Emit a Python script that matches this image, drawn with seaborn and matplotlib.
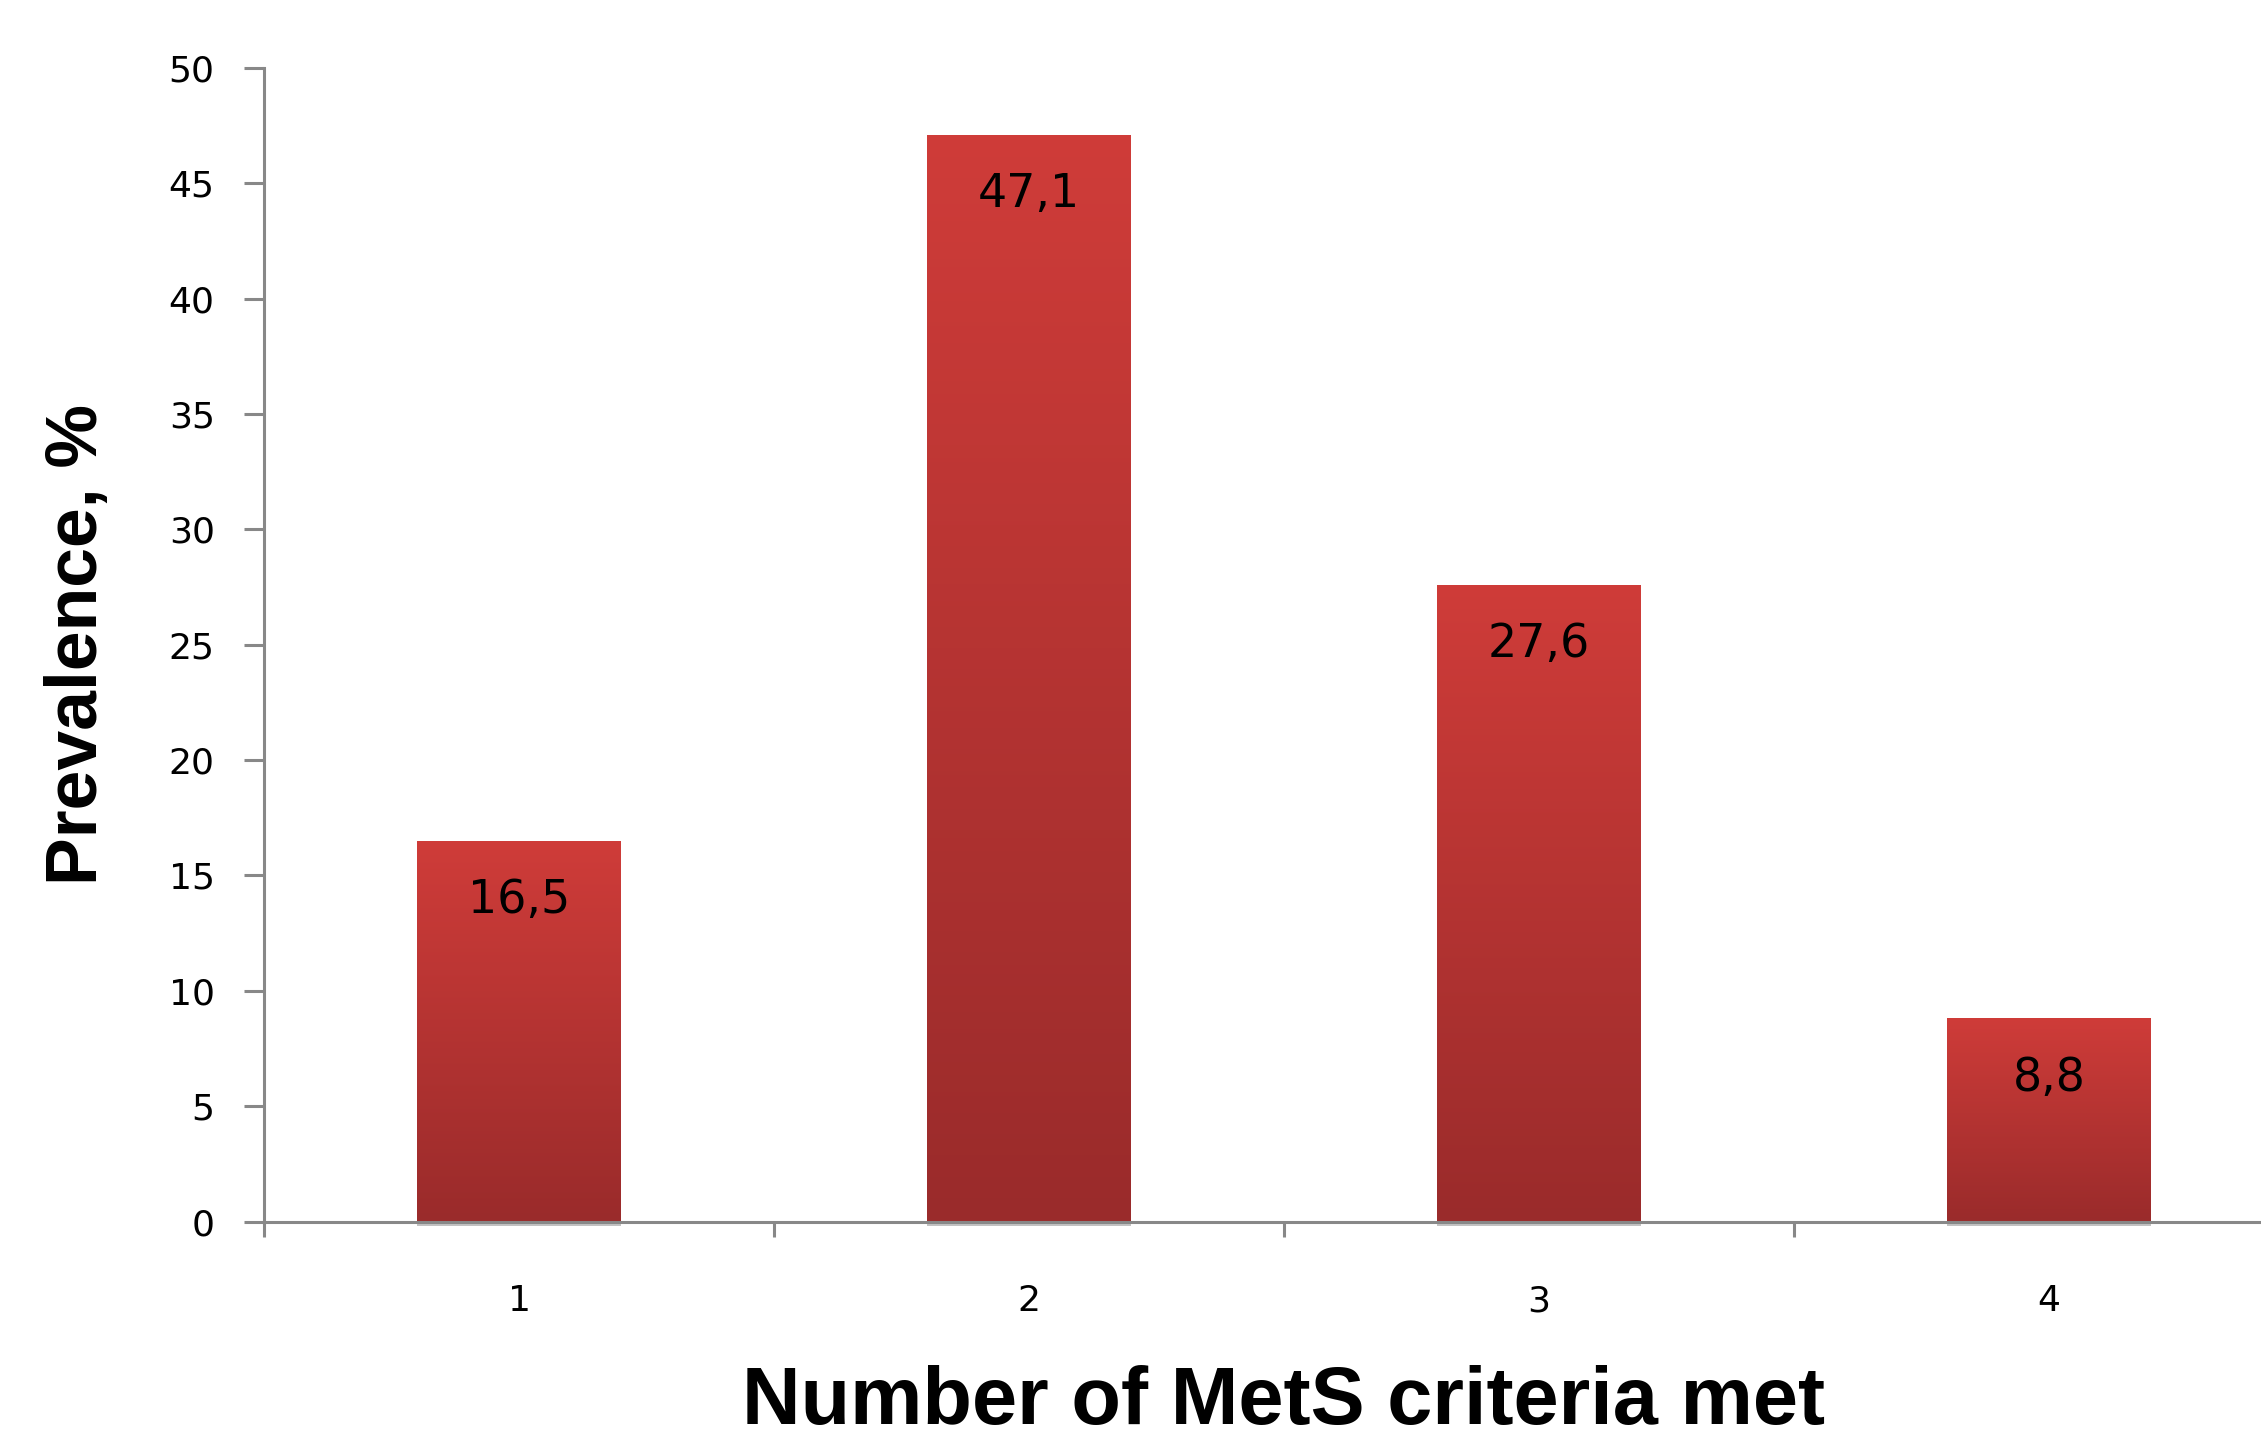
import numpy as np
import pandas as pd
import matplotlib
matplotlib.use("Agg")
import matplotlib.pyplot as plt
import matplotlib.patheffects as pe
from matplotlib.colors import LinearSegmentedColormap
from matplotlib.ticker import FixedLocator
import seaborn as sns

# Data
criteria = ["1", "2", "3", "4"]
prevalence = [16.5, 47.1, 27.6, 8.8]
y_ticks = [0, 5, 10, 15, 20, 25, 30, 35, 40, 45, 50]

df = pd.DataFrame({"criteria": criteria, "prevalence": prevalence})

sns.set_theme(style="white")
plt.rcParams["font.family"] = ["DejaVu Sans"]

W, H = 2261, 1444
fig = plt.figure(figsize=(W / 100, H / 100), dpi=100)
fig.patch.set_facecolor("white")

# axes box in pixels (the right end runs past the canvas edge)
left_px, right_px, top_px, bottom_px = 264, 2304, 68, 1221.5
ax = fig.add_axes([left_px / W, (H - bottom_px) / H,
                   (right_px - left_px) / W, (bottom_px - top_px) / H])
ax.set_facecolor("white")

bar_top = "#CF3C39"
bar_bottom = "#9A2B2B"

sns.barplot(data=df, x="criteria", y="prevalence", color=bar_top,
            width=0.4, saturation=1, ax=ax, zorder=1)

grad_cmap = LinearSegmentedColormap.from_list("barfade", [bar_bottom, bar_top])
grad = np.linspace(0, 1, 256).reshape(-1, 1)

for patch in ax.patches:
    patch.set_edgecolor("none")
    patch.set_clip_on(False)
    patch.set_path_effects([
        pe.SimplePatchShadow(offset=(0, -3.5), shadow_rgbFace="#9a9a9a", alpha=0.6),
        pe.Normal(),
    ])
    x0, y0 = patch.get_x(), patch.get_y()
    w, h = patch.get_width(), patch.get_height()
    im = ax.imshow(grad, extent=[x0, x0 + w, y0, y0 + h], origin="lower",
                   cmap=grad_cmap, aspect="auto", zorder=1.5, interpolation="bilinear")
    im.set_clip_path(patch)

# value labels inside the bars, decimal comma
for i, v in enumerate(prevalence):
    ax.annotate(f"{v:.1f}".replace(".", ","), (i, v), xytext=(0, -43),
                textcoords="offset points", ha="center", va="center",
                fontsize=33, color="black", zorder=3)

ax.set_xlim(-0.5, 3.5)
ax.set_ylim(0, 50)

axis_gray = "#888888"
for side in ["top", "right"]:
    ax.spines[side].set_visible(False)
for side in ["left", "bottom"]:
    ax.spines[side].set_color(axis_gray)
    ax.spines[side].set_linewidth(2.2)
    ax.spines[side].set_zorder(2.5)

ax.yaxis.set_major_locator(FixedLocator(y_ticks))
ax.set_yticklabels([str(t) for t in y_ticks])
ax.tick_params(axis="y", which="major", direction="out", length=14.5, width=2.2,
               color=axis_gray, pad=21, labelsize=26, labelcolor="black", left=True)

ax.set_xticks(range(len(criteria)))
ax.set_xticklabels(criteria)
ax.tick_params(axis="x", which="major", length=0, pad=45, labelsize=26,
               labelcolor="black", bottom=True)
ax.xaxis.set_minor_locator(FixedLocator([-0.5, 0.5, 1.5, 2.5, 3.5]))
ax.tick_params(axis="x", which="minor", direction="out", length=11, width=2.2,
               color=axis_gray, bottom=True)

label_font = ["Liberation Sans", "DejaVu Sans"]
ax.set_ylabel("Prevalence, %", fontsize=51.5, fontweight="bold", family=label_font,
              color="black", va="center")
ax.yaxis.set_label_coords((78 - left_px) / (right_px - left_px), 0.5)

ax.set_xlabel("Number of MetS criteria met", fontsize=58.5, fontweight="bold",
              family=label_font, color="black", va="bottom")
ax.xaxis.set_label_coords(0.5, -(1441 - bottom_px) / (bottom_px - top_px))

fig.savefig("out.png", dpi=100, facecolor="white")
